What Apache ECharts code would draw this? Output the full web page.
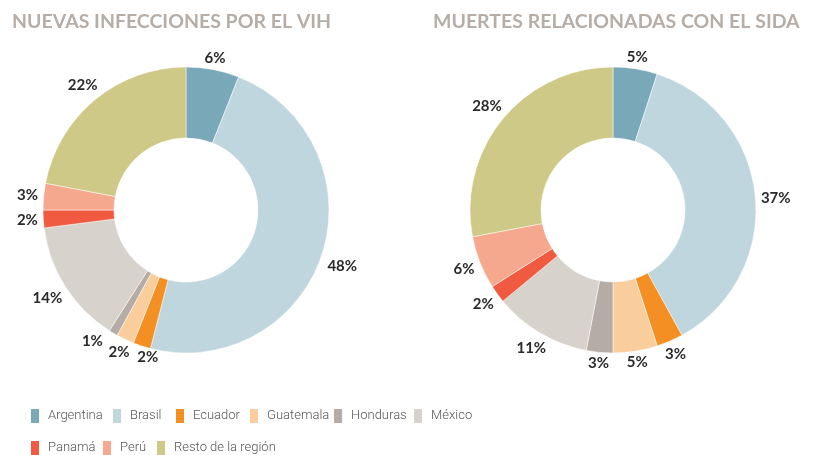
<!DOCTYPE html>
<html>

<head>
	<meta charset="utf-8">
	<title>VIH y SIDA</title>
	<script src="https://cdn.jsdelivr.net/npm/echarts@6/dist/echarts.min.js"></script>
	<style>
		html, body { margin: 0; padding: 0; background: #fff; }
	</style>
</head>

<body>
	<div id="main" style="width: 819px; height: 455px;"></div>
	<script type="text/javascript">
		//países (leyenda)
		var paises = ['Argentina', 'Brasil', 'Ecuador', 'Guatemala', 'Honduras', 'México', 'Panamá', 'Perú', 'Resto de la región'];
		//colores por país
		var colores = ['#79a8b8', '#bfd6de', '#f48f23', '#facd9d', '#b5aca5', '#d7d2cc', '#ef5a41', '#f6a88e', '#cec986'];
		//porcentajes
		var nuevasInfecciones = [6, 48, 2, 2, 1, 14, 2, 3, 22];
		var muertesSida = [5, 37, 3, 5, 3, 11, 2, 6, 28];
		var titulos = ['NUEVAS INFECCIONES POR EL VIH', 'MUERTES RELACIONADAS CON EL SIDA'];

		//posición de cada elemento de la leyenda (x del cuadro, fila)
		var leyendaX = [24, 106, 169, 243, 327, 407, 24, 96, 150];
		var leyendaFila = [0, 0, 0, 0, 0, 0, 1, 1, 1];
		//centros y radios de las donas
		var centros = [[186, 210], [613, 210]];
		var radioExt = 143, radioInt = 72;
		//pequeños desplazamientos de etiquetas para que no se encimen
		var ajustes = [{ 'Honduras': [-13, -5], 'Ecuador': [10, -1], 'Brasil': [0, 5] }, { 'Brasil': [0, 4] }];

		var chart = echarts.init(document.getElementById('main'));

		function datos(valores, transparente) {
			var res = [];
			for (var i = 0; i < paises.length; i++) {
				res.push({
					name: paises[i],
					value: valores[i],
					itemStyle: { color: transparente ? 'rgba(0,0,0,0)' : colores[i] }
				});
			}
			return res;
		}

		//anillo de colores
		function dona(n, valores) {
			return {
				type: 'pie',
				center: centros[n],
				radius: [radioInt, radioExt],
				startAngle: 90,
				clockwise: true,
				animation: false,
				silent: true,
				itemStyle: {
					borderColor: '#fff',
					borderWidth: 0.5
				},
				label: { show: false },
				labelLine: { show: false },
				data: datos(valores, false)
			};
		}

		//coloca cada etiqueta justo fuera del anillo, sobre el ángulo medio del sector
		function colocar(n) {
			return function (params) {
				var c = centros[n];
				var r = params.labelRect;
				var vx = r.x + r.width / 2 - c[0];
				var vy = r.y + r.height / 2 - c[1];
				var len = Math.sqrt(vx * vx + vy * vy);
				vx /= len;
				vy /= len;
				var dist = radioExt + 2 + 3 * Math.abs(vx) + (Math.abs(vx) * r.width + Math.abs(vy) * r.height) / 2;
				var aj = ajustes[n][paises[params.dataIndex]] || [0, 0];
				return {
					x: c[0] + vx * dist + aj[0],
					y: c[1] + vy * dist + aj[1],
					align: 'center',
					verticalAlign: 'middle'
				};
			};
		}

		//anillo invisible solo para las etiquetas
		function etiquetas(n, valores) {
			return {
				type: 'pie',
				center: centros[n],
				radius: [radioExt, radioExt + 30],
				startAngle: 90,
				clockwise: true,
				animation: false,
				silent: true,
				label: {
					show: true,
					position: 'inside',
					formatter: '{c}%',
					color: '#2a2a2a',
					fontSize: 15,
					fontWeight: 'bold',
					fontFamily: 'Lato'
				},
				labelLine: { show: false },
				labelLayout: colocar(n),
				data: datos(valores, true)
			};
		}

		var leyendas = [];
		for (var i = 0; i < paises.length; i++) {
			leyendas.push({
				data: [{ name: paises[i], itemStyle: { color: colores[i] } }],
				left: leyendaX[i],
				top: 402 + leyendaFila[i] * 32,
				itemWidth: 10,
				itemHeight: 16,
				icon: 'rect',
				selectedMode: false,
				textStyle: {
					color: '#555',
					fontSize: 13,
					fontWeight: 300,
					fontFamily: 'Roboto',
					padding: [0, 0, 0, 3]
				}
			});
		}

		var option = {
			backgroundColor: '#fff',
			title: [{
				text: titulos[0],
				left: 7,
				top: 7,
				textStyle: { color: '#b6ada6', fontSize: 19.5, fontWeight: 'bold', fontFamily: 'Lato' }
			}, {
				text: titulos[1],
				left: 428,
				top: 7,
				textStyle: { color: '#b6ada6', fontSize: 19.5, fontWeight: 'bold', fontFamily: 'Lato' }
			}],
			legend: leyendas,
			series: [
				dona(0, nuevasInfecciones),
				dona(1, muertesSida),
				etiquetas(0, nuevasInfecciones),
				etiquetas(1, muertesSida)
			]
		};
		chart.setOption(option);
	</script>
</body>

</html>
